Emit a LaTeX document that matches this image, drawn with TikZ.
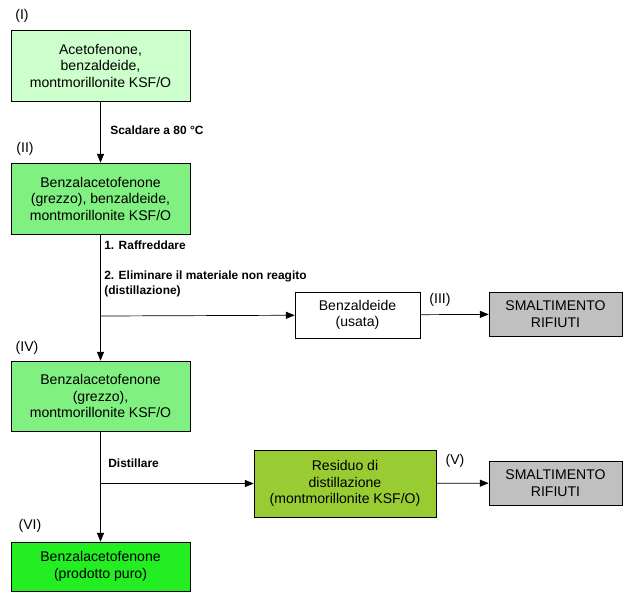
\documentclass[tikz,border=0pt]{standalone}
\usepackage{fontspec}
\setmainfont{Liberation Sans}
\usetikzlibrary{arrows.meta}
\definecolor{cI}{HTML}{CCFFCC}
\definecolor{cII}{HTML}{80F080}
\definecolor{cVI}{HTML}{22EE22}
\definecolor{cRes}{HTML}{99CC33}
\definecolor{cGr}{HTML}{C0C0C0}
\tikzstyle{bS}=[draw, inner sep = 0pt, font=\fontsize{8}{9.4}\selectfont, align=center]
\tikzstyle{lS}=[inner sep = 0pt, font=\fontsize{6.8}{8.2}\selectfont\bfseries, align=left, anchor=west]
\tikzstyle{nL}=[inner sep = 0pt, font=\fontsize{8}{9.4}\selectfont]
\tikzstyle{aS}=[-{Triangle[length=5pt,width=4pt]}]

\begin{document}
\begin{tikzpicture}[x=0.02cm,y=-0.02cm]
    \useasboundingbox (0,0) rectangle (635,610);
    \draw (100.5,65.5) node[bS, fill=cI, minimum width=3.58cm, minimum height=1.42cm] (n1) {Acetofenone,\\benzaldeide,\\montmorillonite KSF/O};
    \draw (100.5,198.5) node[bS, fill=cII, minimum width=3.58cm, minimum height=1.42cm] (n2) {Benzalacetofenone\\(grezzo), benzaldeide,\\montmorillonite KSF/O};
    \draw (100.5,396) node[bS, fill=cII, minimum width=3.58cm, minimum height=1.4cm] (n4) {Benzalacetofenone\\(grezzo),\\montmorillonite KSF/O};
    \draw (100.5,566.5) node[bS, fill=cVI, minimum width=3.58cm, minimum height=0.98cm] (n6) {Benzalacetofenone\\(prodotto puro)};
    \draw (357.5,315) node[bS, fill=white, minimum width=2.5cm, minimum height=0.92cm] (n3) {Benzaldeide\\(usata)};
    \draw (555.5,314) node[bS, fill=cGr, minimum width=2.66cm, minimum height=0.88cm] (s1) {SMALTIMENTO\\RIFIUTI};
    \draw (345,483.5) node[bS, fill=cRes, minimum width=3.64cm, minimum height=1.34cm] (n5) {Residuo di\\distillazione\\(montmorillonite KSF/O)};
    \draw (555.5,483) node[bS, fill=cGr, minimum width=2.66cm, minimum height=0.88cm] (s2) {SMALTIMENTO\\RIFIUTI};

    \coordinate (b1) at (100.5,316);
    \coordinate (b2) at (100.5,483.5);

    \draw[aS] (n1) -- (n2);
    \draw[aS] (n2) -- (n4);
    \draw[aS] (n4) -- (n6);
    \draw[aS] (b1) -- (n3);
    \draw[aS] (b2) -- (n5);
    \draw[aS] (n3) -- (s1);
    \draw[aS] (n5) -- (s2);

    \node[lS] at (110,130) {Scaldare a 80 °C};
    \node[lS] at (104,245) {1. Raffreddare};
    \node[lS] at (104,284) {2. Eliminare il materiale non reagito\\(distillazione)};
    \node[lS] at (108,463) {Distillare};

    \node[nL] at (22,16) {(I)};
    \node[nL] at (25,149) {(II)};
    \node[nL] at (27,348) {(IV)};
    \node[nL] at (30,526) {(VI)};
    \node[nL] at (440,300) {(III)};
    \node[nL] at (455,461) {(V)};
\end{tikzpicture}
\end{document}
